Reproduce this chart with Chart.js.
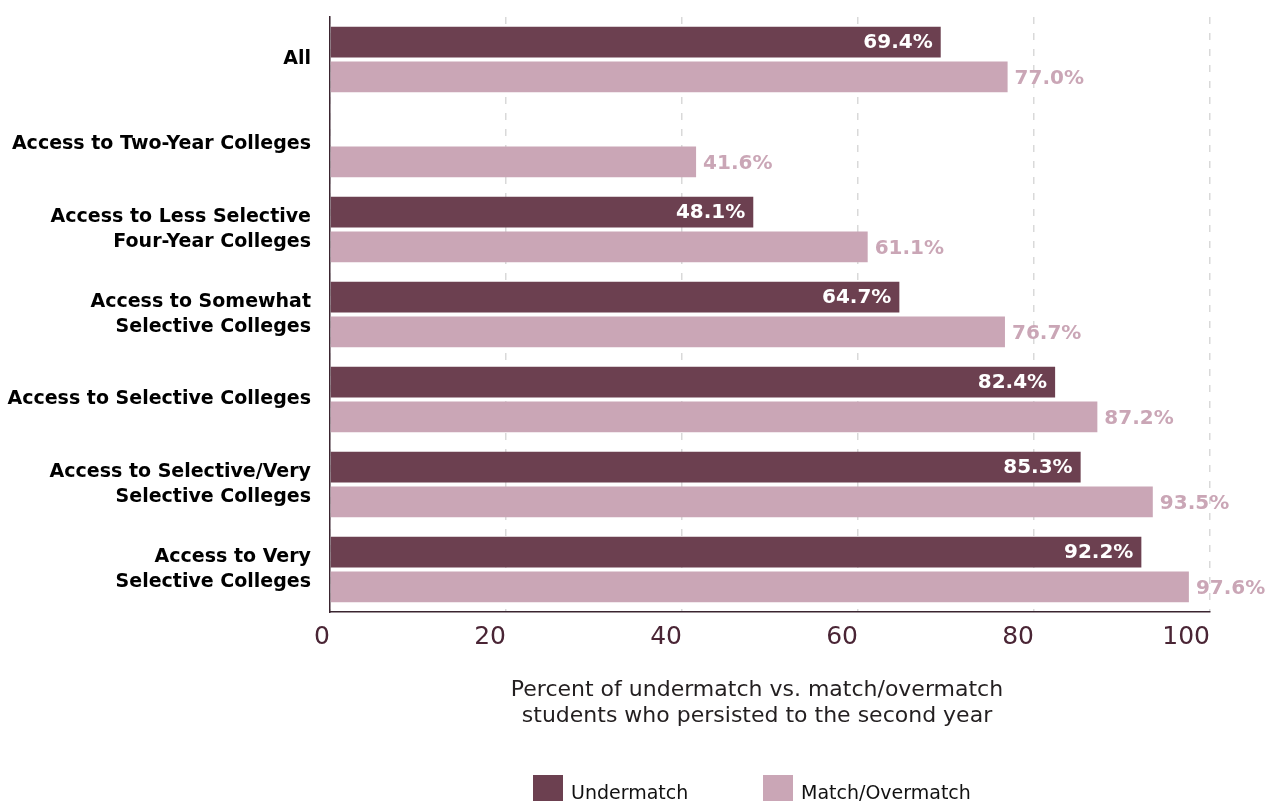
<!DOCTYPE html>
<html>
<head>
<meta charset="utf-8">
<script src="https://cdn.jsdelivr.net/npm/chart.js@4.4.1/dist/chart.umd.min.js"></script>
<style>
  html, body { margin: 0; padding: 0; background: #fff; }
  #wrap { position: relative; width: 1265px; height: 801px; overflow: hidden; font-family: "DejaVu Sans", sans-serif; }
  #chart { position: absolute; left: 0; top: 0; }
  .axis-title { position: absolute; left: 457px; top: 676px; width: 600px; text-align: center; font-size: 22px; line-height: 26px; color: #231f20; }
  .legend-item { position: absolute; top: 775px; height: 30px; display: flex; align-items: flex-start; font-size: 19px; color: #111; }
  .legend-item span.box { display: inline-block; width: 30px; height: 30px; margin-right: 8px; }
  .legend-item span.txt { line-height: 30px; margin-top: 2px; }
</style>
</head>
<body>
<div id="wrap">
  <canvas id="chart" width="1265" height="801"></canvas>
  <div class="axis-title">Percent of undermatch vs. match/overmatch<br>students who persisted to the second year</div>
  <div class="legend-item" style="left:533px"><span class="box" style="background:#6c4050"></span><span class="txt">Undermatch</span></div>
  <div class="legend-item" style="left:763px"><span class="box" style="background:#caa6b6"></span><span class="txt">Match/Overmatch</span></div>
</div>
<script>
// categories (multi-line labels split into arrays)
const categories = [
    ['All'],
    ['Access to Two-Year Colleges'],
    ['Access to Less Selective', 'Four-Year Colleges'],
    ['Access to Somewhat', 'Selective Colleges'],
    ['Access to Selective Colleges'],
    ['Access to Selective/Very', 'Selective Colleges'],
    ['Access to Very', 'Selective Colleges']
];
const undermatch = [69.4, 0, 48.1, 64.7, 82.4, 85.3, 92.2];
const matchOvermatch = [77.0, 41.6, 61.1, 76.7, 87.2, 93.5, 97.6];
const xTicks = [0, 20, 40, 60, 80, 100];

const darkColor = '#6c4050';
const lightColor = '#caa6b6';
const fontFamily = '"DejaVu Sans", sans-serif';

// value labels: white inside the dark bars, pink just past the light ones
const barLabels = {
    id: 'barLabels',
    afterDatasetsDraw(chart) {
        const ctx = chart.ctx;
        ctx.save();
        ctx.font = `bold 20px ${fontFamily}`;
        ctx.textBaseline = 'middle';
        chart.data.datasets.forEach((ds, di) => {
            const meta = chart.getDatasetMeta(di);
            meta.data.forEach((bar, i) => {
                const v = ds.data[i];
                if (!v) return;
                const text = v.toFixed(1) + '%';
                if (di === 0) {
                    ctx.fillStyle = '#ffffff';
                    ctx.textAlign = 'right';
                    ctx.fillText(text, bar.x - 8, bar.y + 1);
                } else {
                    ctx.fillStyle = lightColor;
                    ctx.textAlign = 'left';
                    ctx.fillText(text, bar.x + 7, bar.y + 2);
                }
            });
        });
        ctx.restore();
    }
};

new Chart(document.getElementById('chart'), {
    type: 'bar',
    data: {
        labels: categories,
        datasets: [
            { label: 'Undermatch', data: undermatch, backgroundColor: darkColor },
            { label: 'Match/Overmatch', data: matchOvermatch, backgroundColor: lightColor }
        ]
    },
    options: {
        indexAxis: 'y',
        responsive: false,
        animation: false,
        events: [],
        categoryPercentage: 0.82,
        barPercentage: 0.88,
        layout: { padding: { top: 17, right: 55, bottom: 0, left: 0 } },
        plugins: { legend: { display: false }, tooltip: { enabled: false } },
        scales: {
            x: {
                min: 0,
                max: 100,
                afterBuildTicks: (scale) => { scale.ticks = xTicks.map(v => ({ value: v })); },
                afterFit: (scale) => { scale.height = 189; scale.paddingLeft = 0; scale.paddingRight = 0; },
                ticks: { font: { size: 25, family: fontFamily }, color: '#4a2535', padding: 10, align: 'end' },
                grid: { color: '#d9d9d9', lineWidth: 1.5, drawTicks: false },
                border: { display: true, color: '#3a2530', width: 1.5, dash: [7, 9] }
            },
            y: {
                afterFit: (scale) => { scale.width = 330; scale.paddingTop = 0; scale.paddingBottom = 0; },
                ticks: { font: { size: 19, weight: 'bold', family: fontFamily, lineHeight: 1.27 }, color: '#000', padding: 19, autoSkip: false },
                grid: { display: false, drawTicks: false },
                border: { display: true, color: '#3a2530', width: 1.5 }
            }
        }
    },
    plugins: [barLabels]
});
</script>
</body>
</html>
